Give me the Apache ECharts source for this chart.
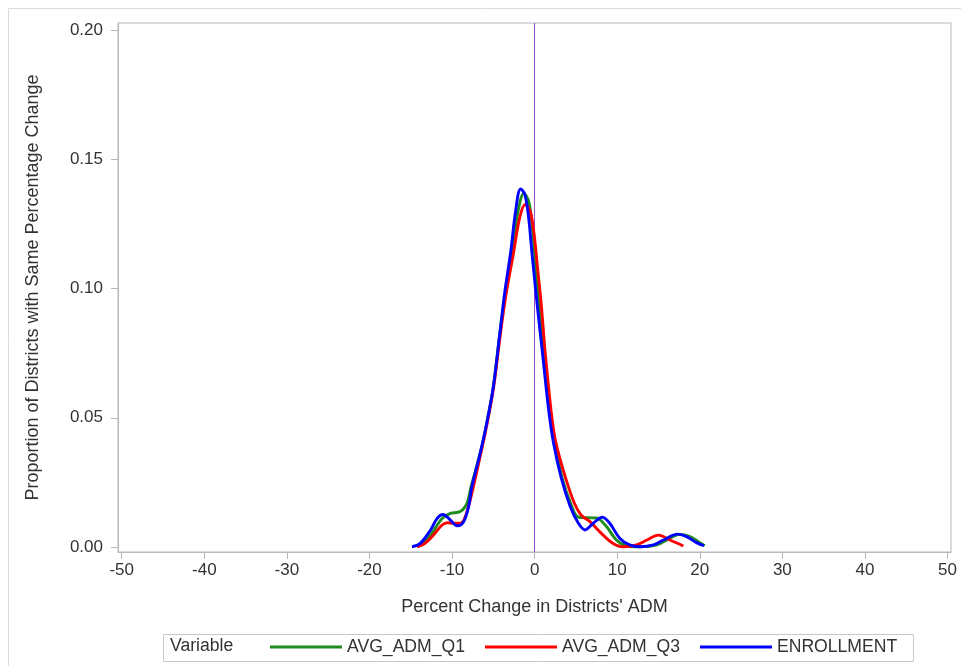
<!DOCTYPE html>
<html>
<head>
<meta charset="utf-8">
<script src="https://cdn.jsdelivr.net/npm/echarts@6/dist/echarts.min.js"></script>
<style>html,body{margin:0;padding:0;background:#fff}#c{width:961px;height:666px}</style>
</head>
<body>
<div id="c"></div>
<script>
// ---- data ----
const seriesNames = ['AVG_ADM_Q1', 'AVG_ADM_Q3', 'ENROLLMENT'];
const xTicks = [-50, -40, -30, -20, -10, 0, 10, 20, 30, 40, 50];
const yTicks = [0, 0.05, 0.10, 0.15, 0.20];

const q1X = [-14.25,-13.4,-12.6,-11.2,-10.2,-9.0,-8.2,-7.7,-6.6,-5.8,-5.0,-4.2,-3.5,-2.75,-2.0,-1.3,-0.7,-0.2,0.3,0.8,1.15,1.8,2.4,3.3,4.4,5.3,6.5,7.5,8.7,9.9,11.1,12.75,14.8,16.4,17.6,18.8,20.0,20.6];
const q1Y = [0.0001,0.0018,0.0046,0.011,0.013,0.0137,0.0169,0.0233,0.0362,0.0479,0.062,0.083,0.099,0.114,0.130,0.1368,0.1335,0.121,0.102,0.084,0.0736,0.054,0.041,0.027,0.0165,0.0115,0.0113,0.0112,0.0079,0.0027,0.0005,0.0001,0.0008,0.0034,0.0049,0.004,0.0017,0.0005];

const q3X = [-14.25,-13.4,-12.6,-11.2,-10.6,-9.8,-9.0,-8.4,-7.6,-6.6,-5.8,-5.0,-4.2,-3.5,-2.6,-1.8,-1.15,-0.55,-0.1,0.4,0.8,1.3,2.1,2.6,3.7,4.8,5.6,6.7,8.3,9.5,10.7,12.35,13.6,15.0,16.4,18.0];
const q3Y = [0.0001,0.0012,0.0034,0.0085,0.0094,0.0092,0.0092,0.0117,0.0208,0.035,0.047,0.061,0.081,0.097,0.113,0.1275,0.1325,0.130,0.122,0.1065,0.094,0.0745,0.0498,0.040,0.0272,0.017,0.0125,0.0098,0.0046,0.0014,0.0001,0.0008,0.0027,0.0046,0.0027,0.0004];

const enX = [-14.85,-13.85,-12.6,-11.8,-11.1,-10.2,-9.4,-8.6,-8.0,-7.6,-6.6,-5.8,-5.0,-4.2,-3.6,-2.9,-2.3,-1.7,-1.2,-0.75,-0.3,0.3,1.0,1.7,2.3,3.2,4.3,5.3,6.1,7.1,8.2,9.1,10.3,11.5,12.75,14.4,15.6,17.3,18.4,19.6,20.5];
const enY = [0.0001,0.0014,0.0066,0.0111,0.0126,0.0104,0.0082,0.0098,0.0156,0.0233,0.0362,0.0479,0.062,0.083,0.099,0.114,0.130,0.1385,0.1365,0.128,0.113,0.094,0.0736,0.053,0.040,0.027,0.0158,0.0092,0.0066,0.0092,0.0115,0.0092,0.0034,0.0008,0.0001,0.0008,0.0027,0.005,0.004,0.0017,0.0005];

const refLineX = 0;

// ---- chart ----
const FONT = 'Liberation Sans';
const zip = (xs, ys) => xs.map((x, i) => [x, ys[i]]);
const colors = ['#1e8c1e', '#ff0000', '#0000ff'];
const dataSets = [zip(q1X, q1Y), zip(q3X, q3Y), zip(enX, enY)];

const chart = echarts.init(document.getElementById('c'), null, {renderer: 'canvas'});
const series = seriesNames.map((name, i) => ({
  name, type: 'line', data: dataSets[i], smooth: 0.35,
  showSymbol: false, symbol: 'none',
  lineStyle: {color: colors[i], width: 2.9}, itemStyle: {color: colors[i]},
  z: 3 + i, silent: true
}));
series[0].markLine = {
  silent: true, symbol: 'none', label: {show: false},
  lineStyle: {color: '#a04cc8', width: 1, type: 'solid'},
  data: [{xAxis: refLineX}], z: 1
};

chart.setOption({
  animation: false,
  backgroundColor: '#fff',
  textStyle: {fontFamily: FONT},
  grid: {left: 118, top: 23, right: 10, bottom: 114, show: true, borderColor: '#b4b9bd', borderWidth: 1},
  xAxis: {
    type: 'value', min: -50.45, max: 50.42,
    name: "Percent Change in Districts' ADM", nameLocation: 'middle', nameGap: 46,
    nameTextStyle: {color: '#333', fontSize: 18, fontFamily: FONT},
    axisLine: {show: true, onZero: false, lineStyle: {color: '#b4b9bd'}},
    axisTick: {show: true, length: 7, lineStyle: {color: '#b4b9bd'}, customValues: xTicks},
    axisLabel: {color: '#333', fontSize: 17, fontFamily: FONT, margin: 10, customValues: xTicks},
    splitLine: {show: false}
  },
  yAxis: {
    type: 'value', min: -0.00193, max: 0.2027,
    name: 'Proportion of Districts with Same Percentage Change', nameLocation: 'middle', nameGap: 76,
    nameTextStyle: {color: '#333', fontSize: 18, fontFamily: FONT},
    axisLine: {show: true, onZero: false, lineStyle: {color: '#b4b9bd'}},
    axisTick: {show: true, length: 7, lineStyle: {color: '#b4b9bd'}, customValues: yTicks},
    axisLabel: {color: '#333', fontSize: 17, fontFamily: FONT, margin: 15, customValues: yTicks,
      formatter: v => v.toFixed(2)},
    splitLine: {show: false}
  },
  legend: {
    data: seriesNames, left: 265, top: 633, icon: 'rect', itemWidth: 72, itemHeight: 3,
    itemGap: 20, textStyle: {color: '#333', fontSize: 17.6, fontFamily: FONT}, selectedMode: false
  },
  graphic: [
    {type: 'rect', left: 6, top: 6, shape: {width: 1000, height: 700}, style: {fill: 'none', stroke: '#dcdcdc', lineWidth: 1}, silent: true, z: -10},
    {type: 'rect', left: 161, top: 632, shape: {width: 750, height: 27}, style: {fill: 'none', stroke: '#c8c8c8', lineWidth: 1}, silent: true},
    {type: 'text', left: 170, top: 637, style: {text: 'Variable', fill: '#333', font: '17.6px ' + FONT}, silent: true}
  ],
  series
});
</script>
</body>
</html>
